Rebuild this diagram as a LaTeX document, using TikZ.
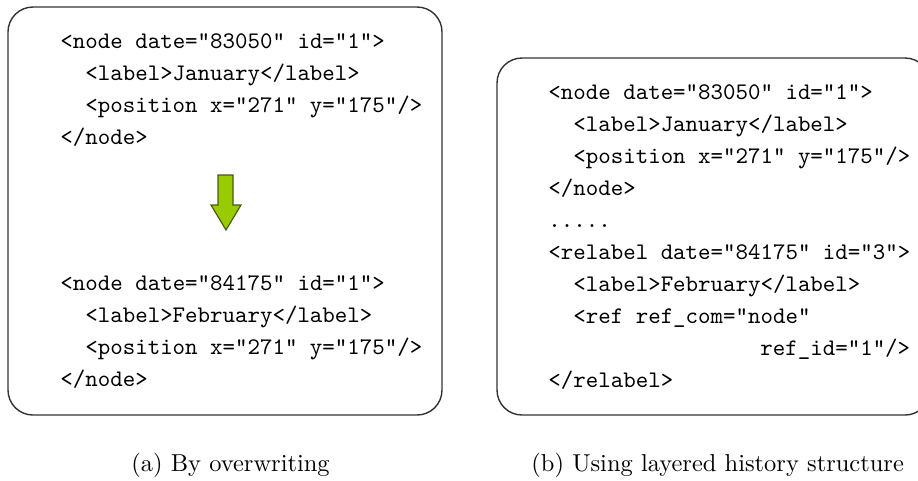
\documentclass[tikz,border=0pt]{standalone}
\usepackage{fontspec}
\definecolor{arrowfill}{RGB}{153,204,0}
\definecolor{arrowline}{RGB}{70,90,10}
\tikzset{
  codebox/.style={draw=black!80, line width=0.6pt, rounded corners=10.7pt},
  codeline/.style={anchor=base west, inner sep=0pt, font=\ttfamily\fontsize{10.2}{12}\selectfont},
  captiontext/.style={anchor=base west, inner sep=0pt, font=\rmfamily\fontsize{10.5}{12}\selectfont},
  downarrow/.style={fill=arrowfill, draw=arrowline, line width=0.5pt, line join=miter}
}
\begin{document}
\begin{tikzpicture}[x=0.4292pt, y=-0.4292pt]
  \useasboundingbox (0,0) rectangle (918,480);
  \clip (0,0) rectangle (918,480);
  \def\cw{12.47}

  % (a) overwriting the node in place
  \draw[codebox] (8,7) rectangle (442,415);
  \node[codeline] (a1) at (60,48)  {<node date="83050" id="1">};
  \node[codeline] (a2) at ({60+2*\cw},80)  {<label>January</label>};
  \node[codeline] (a3) at ({60+2*\cw},112) {<position x="271" y="175"/>};
  \node[codeline] (a4) at (60,144) {</node>};
  \filldraw[downarrow] (218,175) -- (233,175) -- (233,205) -- (241,205)
    -- (226,230) -- (211,205) -- (218,205) -- cycle;
  \node[codeline] (a5) at (60,290) {<node date="84175" id="1">};
  \node[codeline] (a6) at ({60+2*\cw},322) {<label>February</label>};
  \node[codeline] (a7) at ({60+2*\cw},354) {<position x="271" y="175"/>};
  \node[codeline] (a8) at (60,386) {</node>};

  % (b) layered history structure
  \draw[codebox] (497,58) rectangle (930,415);
  \node[codeline] (b1) at (548,99)  {<node date="83050" id="1">};
  \node[codeline] (b2) at ({548+2*\cw},131) {<label>January</label>};
  \node[codeline] (b3) at ({548+2*\cw},163) {<position x="271" y="175"/>};
  \node[codeline] (b4) at (548,195) {</node>};
  \node[codeline] (b5) at (548,227) {.....};
  \node[codeline] (b6) at (548,259) {<relabel date="84175" id="3">};
  \node[codeline] (b7) at ({548+2*\cw},291) {<label>February</label>};
  \node[codeline] (b8) at ({548+2*\cw},323) {<ref ref\_com="node"};
  \node[codeline] (b9) at ({548+17*\cw},355) {ref\_id="1"/>};
  \node[codeline] (b10) at (548,387) {</relabel>};

  % captions
  \node[captiontext] (capa) at (131,471) {(a) By overwriting};
  \node[captiontext] (capb) at (531,471) {(b) Using layered history structure};
\end{tikzpicture}
\end{document}
